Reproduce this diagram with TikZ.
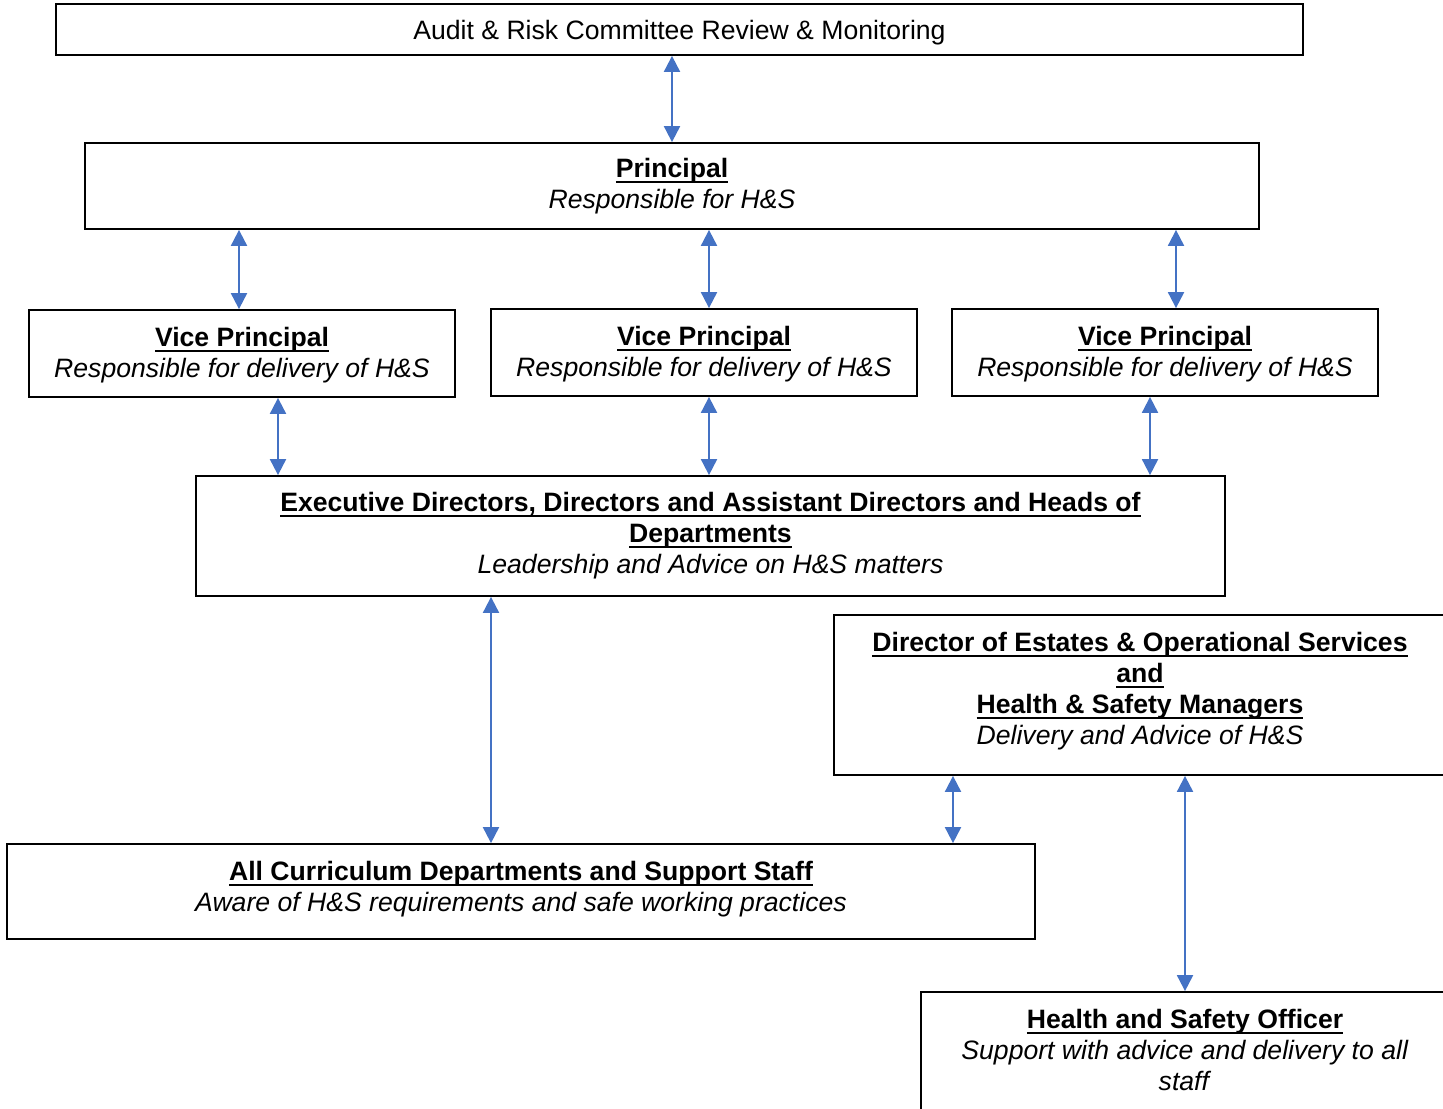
\documentclass[tikz,border=0pt]{standalone}
\usepackage{fontspec}
\setmainfont{Liberation Sans}
\usetikzlibrary{arrows.meta,positioning}
\definecolor{linkcol}{HTML}{4472C4}
% underlined heading, rule set a little below the baseline
\newcommand{\hsul}[1]{\setbox0\hbox{#1}\rlap{\rule[-2.8pt]{\wd0}{1pt}}\box0}

\begin{document}
\begin{tikzpicture}[x=0.5pt, y=-0.5pt,
        font=\fontsize{13.3}{15.5}\selectfont,
        box/.style={draw=black, line width=0.9pt, align=center, inner sep=0pt},
        link/.style={linkcol, line width=1pt,
            {Triangle[width=8pt,length=8pt]}-{Triangle[width=8pt,length=8pt]}}]
        \useasboundingbox (0,0) rectangle (1443,1108);
        \clip (0,0) rectangle (1443,1108);

        % TOP LEVELS
        \node[box, minimum width=623.5pt, minimum height=25.5pt] (audit) at (679.5,29.5)
        {\rule{0pt}{12.7pt}Audit \& Risk Committee Review \& Monitoring};
        \node[box, minimum width=587pt, minimum height=43pt] (principal) at (672,186)
        {\hsul{\textbf{Principal}}\\\textit{Responsible for H\&S}};

        % vice principals
        \foreach \vp/\cx/\cy in {vpA/242/353.5, vpB/704/352.5, vpC/1165/352.5}{
        \node[box, minimum width=213pt, minimum height=43.5pt] (\vp) at (\cx,\cy)
        {\hsul{\textbf{Vice Principal}}\rule{0pt}{11pt}\\\textit{Responsible for delivery of H\&S}};
        }

        \node[box, minimum width=514.5pt, minimum height=60pt] (exec) at (710.5,536)
        {\hsul{\textbf{Executive Directors, Directors and Assistant Directors and Heads of}}\\
            \hsul{\textbf{Departments}}\\\textit{Leadership and Advice on H\&S matters}};

        % LOWER LEVELS
        \node[box, minimum width=306pt, minimum height=80pt] (director) at (1140,695)
        {\hsul{\textbf{Director of Estates \& Operational Services}}\\\hsul{\textbf{and}}\\
            \hsul{\textbf{Health \& Safety Managers}}\\
            \textit{Delivery and Advice of H\&S}\rule[-6.8pt]{0pt}{0pt}};
        \node[box, minimum width=514pt, minimum height=47.5pt] (curric) at (521,891.5)
        {\hsul{\textbf{All Curriculum Departments and Support Staff}}\\
            \textit{Aware of H\&S requirements and safe working practices}\rule[-5pt]{0pt}{0pt}};
        \node[box, minimum width=264pt, minimum height=60pt] (hso) at (1185,1052)
        {\hsul{\textbf{Health and Safety Officer}}\\
            \textit{Support with advice and delivery to all}\\\textit{staff}\rule[-2pt]{0pt}{0pt}};

        % LINKS
        \draw[link] (audit.south -| principal) -- (principal.north);
        \foreach \vp/\xa/\xb in {vpA/239/278, vpB/709/709, vpC/1176/1150}{
        \draw[link] (principal.south -| \xa,0) -- (\vp.north -| \xa,0);
        \draw[link] (\vp.south -| \xb,0) -- (exec.north -| \xb,0);
        }
        \draw[link] (exec.south -| 491,0) -- (curric.north -| 491,0);
        \draw[link] (director.south -| 953,0) -- (curric.north -| 953,0);
        \draw[link] (director.south -| hso) -- (hso.north);

    \end{tikzpicture}
\end{document}
